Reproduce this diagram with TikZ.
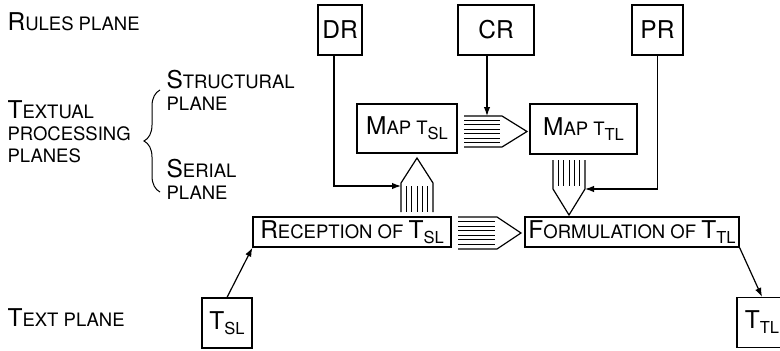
\documentclass[tikz,border=0pt]{standalone}
\usepackage{fontspec}
\setmainfont{TeX Gyre Heros}
\usetikzlibrary{arrows.meta,decorations.pathreplacing}
\newcommand\bigsz{\fontsize{24.5}{22}\selectfont}
\newcommand\smsz{\fontsize{18.5}{22}\selectfont}
\newcommand\capsc[2]{{\bigsz #1}{\smsz #2}}
\newcommand\subsc[1]{\raisebox{-5pt}{\fontsize{16.5}{16}\selectfont #1}}

\begin{document}
\begin{tikzpicture}[x=1pt,y=-1pt,line width=1.2pt,
  box/.style={draw, inner sep=0pt, minimum height=50pt, font=\bigsz},
  wide/.style={draw, inner sep=0pt, minimum height=30pt, font=\bigsz},
  plane/.style={inner sep=0pt, align=left, font=\smsz},
  stripe/.style={line width=1pt},
  arr/.style={-{Latex[length=9pt,width=6.5pt]}}]
  \clip (0,0) rectangle (780,351);
  % planes on the left
  \node[plane, anchor=base west] (rules) at (7,30) {\capsc{R}{ULES PLANE}};
  \node[plane, anchor=west] (textual) at (7,131.5) {\capsc{T}{EXTUAL}\\PROCESSING\\PLANES};
  \node[plane, anchor=west] (struct) at (166,90) {\capsc{S}{TRUCTURAL}\\PLANE};
  \node[plane, anchor=west] (serial) at (166,179.5) {\capsc{S}{ERIAL}\\PLANE};
  \node[plane, anchor=base west] (textpl) at (7,326) {\capsc{T}{EXT PLANE}};
  \draw[line width=1pt, decorate, decoration={brace, amplitude=16pt}] (160,192) -- (160,90);
  % rules
  \node[box, minimum width=44pt] (dr) at (340,30) {DR};
  \node[box, minimum width=76pt] (cr) at (496,30) {CR};
  \node[box, minimum width=51pt] (pr) at (657.5,30) {PR};
  % structural plane
  \node[box, minimum width=100pt, minimum height=49pt] (mapsl) at (407,128.5) {\capsc{M}{AP T}\subsc{SL}};
  \node[box, minimum width=107pt] (maptl) at (583.5,129) {\capsc{M}{AP T}\subsc{TL}};
  % serial plane
  \node[wide, minimum width=198pt] (recep) at (352,232) {\capsc{R}{ECEPTION OF }T\subsc{SL}};
  \node[wide, minimum width=214pt] (formul) at (632,232) {\capsc{F}{ORMULATION OF }T\subsc{TL}};
  % text plane
  \node[box, minimum width=50pt] (tsl) at (227,323) {T\subsc{SL}};
  \node[box, minimum width=50pt] (ttl) at (762,322.5) {T\subsc{TL}};
  % striped arrows
  \draw (464,116) -- (502,116) -- (527,131.5) -- (502,147) -- (464,147);
  \foreach \i in {1,...,6}
    \draw[stripe] (464,116+\i*31/7) -- (500,116+\i*31/7);
  \draw (458,217) -- (497,217) -- (521,233) -- (497,249) -- (458,249);
  \foreach \i in {1,...,6}
    \draw[stripe] (458,217+\i*32/7) -- (495,217+\i*32/7);
  \draw (401,212) -- (401,183) -- (417,158) -- (433,183) -- (433,212);
  \foreach \i in {1,...,5}
    \draw[stripe] (401+\i*32/6,186) -- (401+\i*32/6,212);
  \draw (553,160) -- (553,189) -- (569,215) -- (585,189) -- (585,160);
  \foreach \i in {1,...,5}
    \draw[stripe] (553+\i*32/6,160) -- (553+\i*32/6,186);
  \coordinate (crin) at (487,116);
  \coordinate (upin) at (401,186);
  \coordinate (dnin) at (585,189);
  % connectors
  \draw[arr] (cr.south -| crin) -- (crin);
  \draw[arr] ([xshift=-6pt]dr.south) |- (upin);
  \draw[arr] (pr.south) |- (dnin);
  \draw[arr] (tsl.north) -- (recep.south west);
  \draw[arr] (formul.south east) -- (ttl.north);
\end{tikzpicture}
\end{document}
